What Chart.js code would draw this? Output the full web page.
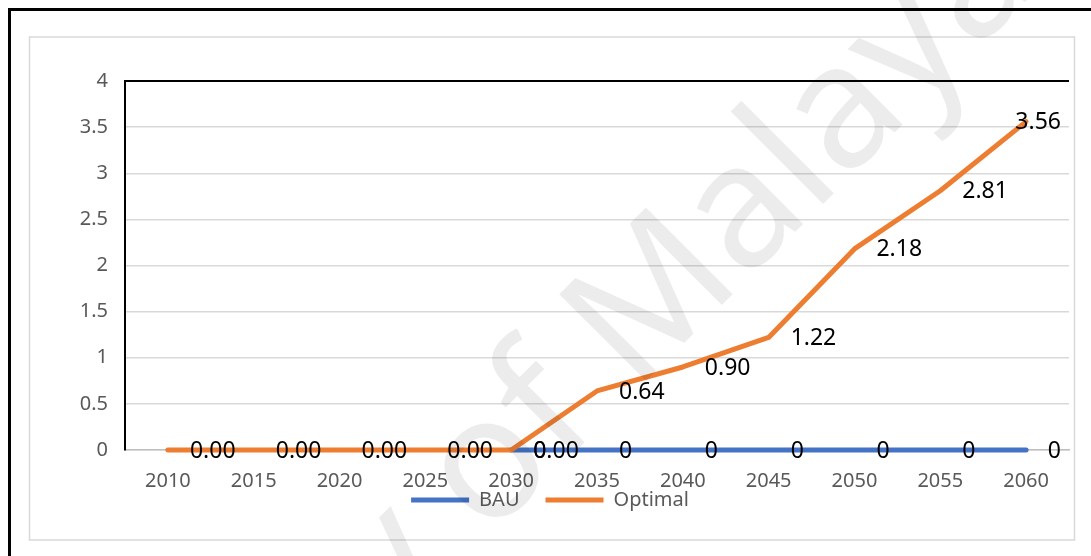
<!DOCTYPE html>
<html>
<head>
<meta charset="utf-8">
<script src="https://cdn.jsdelivr.net/npm/chart.js@4.4.1/dist/chart.umd.min.js"></script>
<style>
  html, body { margin: 0; padding: 0; background: #fff; }
  canvas { display: block; }
</style>
</head>
<body>
<canvas id="chart" width="1091" height="556"></canvas>
<script>
const years = ['2010', '2015', '2020', '2025', '2030', '2035', '2040', '2045', '2050', '2055', '2060'];
const bau = [null, null, null, null, 0, 0, 0, 0, 0, 0, 0];
const optimal = [0, 0, 0, 0, 0, 0.64, 0.90, 1.22, 2.18, 2.81, 3.56];
const yMin = 0;
const yMax = 4;
const yStep = 0.5;

const tickFont = { family: 'Noto Sans', size: 20 };

// page background, outer frame and the light chart border
const frame = {
    id: 'frame',
    beforeDraw(chart) {
        const ctx = chart.ctx;
        ctx.save();
        ctx.fillStyle = '#fff';
        ctx.fillRect(0, 0, chart.width, chart.height);
        ctx.fillStyle = '#000';
        ctx.fillRect(8, 8, chart.width - 8, 3);
        ctx.fillRect(8, 8, 3, chart.height - 8);
        ctx.strokeStyle = '#d9d9d9';
        ctx.lineWidth = 1.5;
        ctx.strokeRect(29.5, 37, 1045, 503);
        ctx.restore();
    }
};

// pull the legend row up closer to the axis labels
const legendNudge = {
    id: 'legendNudge',
    afterLayout(chart) {
        chart.legend.top -= 30;
        chart.legend.bottom -= 30;
    }
};

// value labels to the right of every point
const valueLabels = {
    id: 'valueLabels',
    afterDatasetsDraw(chart) {
        const ctx = chart.ctx;
        ctx.save();
        ctx.font = '23px "Noto Sans"';
        ctx.fillStyle = '#000';
        ctx.textBaseline = 'middle';
        chart.data.datasets.forEach((ds, i) => {
            const meta = chart.getDatasetMeta(i);
            meta.data.forEach((pt, j) => {
                const v = ds.data[j];
                if (v === null) return;
                const text = v.toFixed(ds.decimals);
                const w = ctx.measureText(text).width;
                let x = pt.x + 22;
                if (x + w > 1061) x = 1061 - w;
                ctx.fillText(text, x, pt.y + 1);
            });
        });
        ctx.restore();
    }
};

// faint diagonal watermark across the page
const watermark = {
    id: 'watermark',
    afterDraw(chart) {
        const ctx = chart.ctx;
        ctx.save();
        ctx.font = '172px "Noto Sans"';
        const lead = ctx.measureText('University of Ma').width;
        ctx.translate(827, 200);
        ctx.rotate(-Math.PI / 4);
        ctx.fillStyle = 'rgba(0,0,0,0.075)';
        ctx.textBaseline = 'alphabetic';
        ctx.fillText('University of Malaya', -lead - 20, 0);
        ctx.restore();
    }
};

new Chart(document.getElementById('chart'), {
    type: 'line',
    data: {
        labels: years,
        datasets: [
            {
                label: 'BAU',
                data: bau,
                decimals: 0,
                borderColor: '#4472C4',
                backgroundColor: '#4472C4',
                borderWidth: 5,
                borderCapStyle: 'round',
                borderJoinStyle: 'round',
                pointRadius: 0,
                clip: false,
                order: 1
            },
            {
                label: 'Optimal',
                data: optimal,
                decimals: 2,
                borderColor: '#ED7D31',
                backgroundColor: '#ED7D31',
                borderWidth: 5,
                borderCapStyle: 'round',
                borderJoinStyle: 'round',
                pointRadius: 0,
                clip: false,
                order: 0
            }
        ]
    },
    options: {
        responsive: false,
        animation: false,
        layout: {
            padding: { left: 31, right: 22, top: 81, bottom: 6 }
        },
        scales: {
            x: {
                offset: true,
                grid: { display: false, drawTicks: false },
                border: { color: '#bfbfbf', width: 1.5 },
                ticks: { color: '#595959', font: tickFont, padding: 19, maxRotation: 0, autoSkip: false },
                afterFit(scale) { scale.height = 44; }
            },
            y: {
                min: yMin,
                max: yMax,
                grid: {
                    drawTicks: false,
                    color: c => c.tick.value === yMax ? '#000' : '#d9d9d9',
                    lineWidth: c => c.tick.value === yMax ? 2 : 1.5
                },
                border: { color: '#000', width: 2 },
                ticks: {
                    stepSize: yStep,
                    color: '#595959',
                    font: tickFont,
                    padding: 17,
                    callback: v => String(v)
                },
                afterFit(scale) { scale.width = 94; }
            }
        },
        plugins: {
            tooltip: { enabled: false },
            legend: {
                position: 'bottom',
                maxHeight: 60,
                labels: {
                    usePointStyle: true,
                    pointStyle: 'line',
                    pointStyleWidth: 58,
                    color: '#595959',
                    font: tickFont,
                    padding: 26,
                    sort: (a, b) => a.datasetIndex - b.datasetIndex
                }
            }
        }
    },
    plugins: [frame, legendNudge, valueLabels, watermark]
});
</script>
</body>
</html>
